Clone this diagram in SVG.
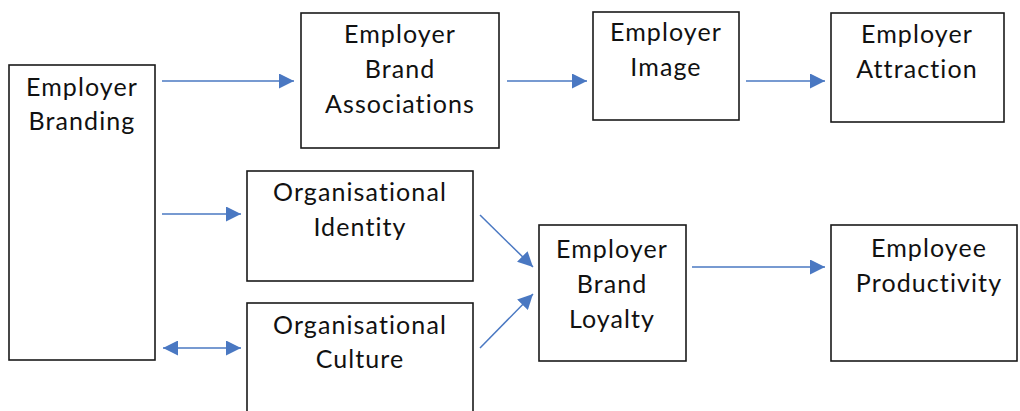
<svg xmlns="http://www.w3.org/2000/svg" width="1020" height="411" viewBox="0 0 1020 411">
<style>
.box{fill:#fff;stroke:#1a1a1a;stroke-width:1.6}
.lbl{font-family:Lato,"Liberation Sans",sans-serif;font-size:25px;letter-spacing:1.1px;fill:#111;text-anchor:middle}
.con{stroke:#4a78c2;stroke-width:1.5;fill:none}
</style>
<defs>
<marker id="ah" markerUnits="userSpaceOnUse" markerWidth="16" markerHeight="15" refX="15" refY="7.5" orient="auto-start-reverse" viewBox="0 0 16 15">
<path d="M0,0 L15,7.5 L0,15 z" fill="#4a78c2"/>
</marker>
</defs>
<rect width="1020" height="411" fill="#fff"/>
<g id="n-branding"><rect class="box" x="9" y="65" width="146" height="295"/><text class="lbl" x="82" y="96">Employer</text><text class="lbl" x="82" y="130">Branding</text></g>
<g id="n-associations"><rect class="box" x="301" y="13" width="198" height="135"/><text class="lbl" x="400" y="43">Employer</text><text class="lbl" x="400" y="78">Brand</text><text class="lbl" x="400" y="113">Associations</text></g>
<g id="n-image"><rect class="box" x="593" y="12" width="146" height="108"/><text class="lbl" x="666" y="41">Employer</text><text class="lbl" x="666" y="76">Image</text></g>
<g id="n-attraction"><rect class="box" x="831" y="13" width="173" height="109"/><text class="lbl" x="917" y="43">Employer</text><text class="lbl" x="917" y="78">Attraction</text></g>
<g id="n-identity"><rect class="box" x="247" y="171" width="226" height="110"/><text class="lbl" x="360" y="201">Organisational</text><text class="lbl" x="360" y="236">Identity</text></g>
<g id="n-culture"><rect class="box" x="247" y="303" width="226" height="120"/><text class="lbl" x="360" y="334">Organisational</text><text class="lbl" x="360" y="368">Culture</text></g>
<g id="n-loyalty"><rect class="box" x="539" y="225" width="147" height="136"/><text class="lbl" x="612" y="258">Employer</text><text class="lbl" x="612" y="293">Brand</text><text class="lbl" x="612" y="328">Loyalty</text></g>
<g id="n-productivity"><rect class="box" x="831" y="225" width="186" height="136"/><text class="lbl" x="929" y="257">Employee</text><text class="lbl" x="929" y="292">Productivity</text></g>
<g id="connectors">
<line class="con" x1="162" y1="81" x2="294" y2="81" marker-end="url(#ah)"/>
<line class="con" x1="507" y1="81" x2="587" y2="81" marker-end="url(#ah)"/>
<line class="con" x1="746" y1="81" x2="825" y2="81" marker-end="url(#ah)"/>
<line class="con" x1="162" y1="214" x2="241" y2="214" marker-end="url(#ah)"/>
<line class="con" x1="163" y1="348" x2="241" y2="348" marker-start="url(#ah)" marker-end="url(#ah)"/>
<line class="con" x1="480" y1="215" x2="533" y2="267" marker-end="url(#ah)"/>
<line class="con" x1="480" y1="348" x2="533" y2="294" marker-end="url(#ah)"/>
<line class="con" x1="692" y1="267" x2="825" y2="267" marker-end="url(#ah)"/>
</g>
</svg>
